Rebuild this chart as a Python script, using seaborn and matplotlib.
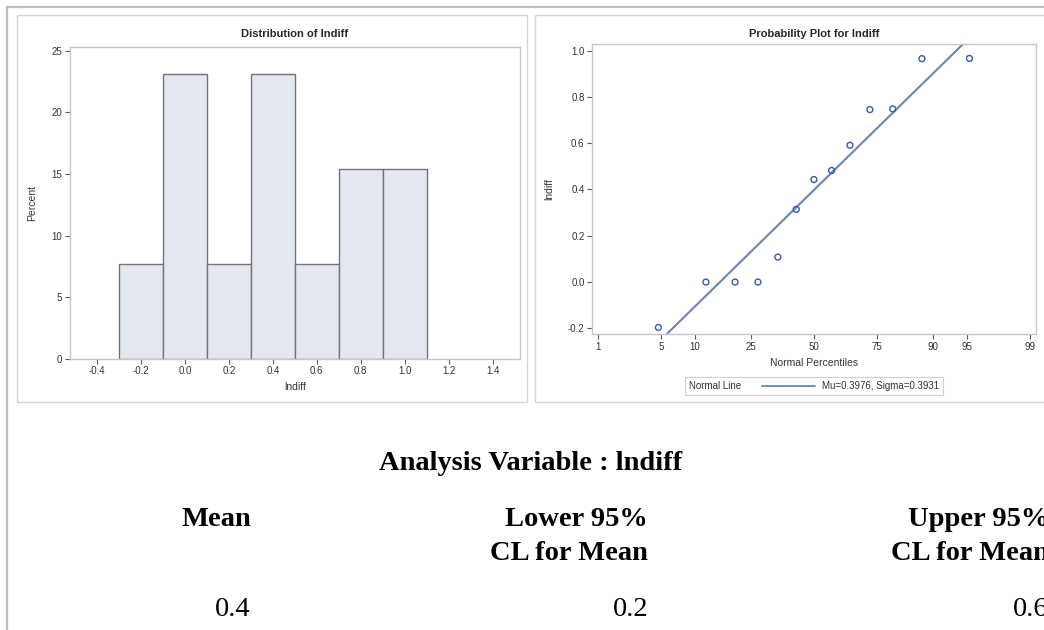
import numpy as np
import pandas as pd
import seaborn as sns
import matplotlib
matplotlib.use("Agg")
import matplotlib.pyplot as plt
from matplotlib.lines import Line2D
from matplotlib.patches import Rectangle
from matplotlib.offsetbox import AnchoredOffsetbox, HPacker, TextArea, DrawingArea
from statistics import NormalDist

# ---------------- data ----------------
lndiff = [-0.196, 0.0, 0.0, 0.0, 0.108, 0.314, 0.443, 0.482, 0.591, 0.745, 0.748, 0.965, 0.966]
bin_edges = [-0.3, -0.1, 0.1, 0.3, 0.5, 0.7, 0.9, 1.1]
hist_xticks = [-0.4, -0.2, 0.0, 0.2, 0.4, 0.6, 0.8, 1.0, 1.2, 1.4]
hist_yticks = [0, 5, 10, 15, 20, 25]
pct_ticks = [1, 5, 10, 25, 50, 75, 90, 95, 99]
prob_yticks = [-0.2, 0.0, 0.2, 0.4, 0.6, 0.8, 1.0]
mu = 0.3976
sigma = 0.3931
table_headers = ["Mean", "Lower 95%\nCL for Mean", "Upper 95%\nCL for Mean"]
table_values = ["0.4", "0.2", "0.6"]

# ---------------- style ----------------
sns.set_theme(style="white")
plt.rcParams['font.family'] = ['Liberation Sans', 'DejaVu Sans']

FRAME = "#C3C7CC"
TICKC = "#5A5A5A"
BAR_FILL = "#E3E7F0"
BAR_EDGE = "#70757D"
MARK = "#3A56B0"
LINEC = "#6C86B0"

fig = plt.figure(figsize=(10.44, 6.3), dpi=100)
W, H = 1044, 630

def fx(px):
    return px / W

def fy(py):
    return 1 - py / H

# page frame lines
fig.add_artist(Line2D([fx(7), fx(7)], [fy(7), fy(630)], color="#BDBDBD", lw=1.6))
fig.add_artist(Line2D([fx(7), fx(1044)], [fy(7), fy(7)], color="#BDBDBD", lw=1.6))
# panel boxes
fig.add_artist(Rectangle((fx(17), fy(402)), fx(527 - 17), (402 - 15) / H,
                         fill=False, ec="#D4D4D4", lw=1.0))
fig.add_artist(Rectangle((fx(535), fy(402)), fx(1060 - 535), (402 - 15) / H,
                         fill=False, ec="#D4D4D4", lw=1.0))

def style_axes(ax):
    for s in ax.spines.values():
        s.set_color(FRAME)
        s.set_linewidth(1.0)
    ax.tick_params(axis="both", which="both", length=3.5, width=0.8, color=TICKC,
                   labelsize=7, labelcolor="#333333", pad=2, direction="out",
                   bottom=True, left=True)

# ---------------- histogram ----------------
ax1 = fig.add_axes([fx(69.7), fy(358.8), fx(520 - 69.7), (358.8 - 46.5) / H])
df = pd.DataFrame({"lndiff": lndiff})
sns.histplot(data=df, x="lndiff", bins=bin_edges, stat="percent", ax=ax1,
             color=BAR_FILL, edgecolor=BAR_EDGE, linewidth=1.0, alpha=1.0)
ax1.set_xlim(-0.525, 1.525)
ax1.set_ylim(0, 25.33)
ax1.set_xticks(hist_xticks)
ax1.set_xticklabels([f"{v:.1f}" for v in hist_xticks])
ax1.set_yticks(hist_yticks)
ax1.set_xlabel("lndiff", fontsize=7.5, color="#333333", labelpad=4)
ax1.set_ylabel("Percent", fontsize=7.5, color="#333333", labelpad=10)
ax1.set_title("Distribution of lndiff", fontsize=8, fontweight="bold", pad=7)
style_axes(ax1)

# ---------------- probability plot ----------------
ax2 = fig.add_axes([fx(592.2), fy(334.4), fx(1036.3 - 592.2), (334.4 - 44.3) / H])
n = len(lndiff)
nd = NormalDist()
ys = sorted(lndiff)
zs = [nd.inv_cdf((i - 0.375) / (n + 0.25)) for i in range(1, n + 1)]
pdf = pd.DataFrame({"z": zs, "lndiff": ys})
zl = np.array([-2.4, 2.4])
ax2.plot(zl, mu + sigma * zl, color=LINEC, lw=1.5, zorder=2)
sns.scatterplot(data=pdf, x="z", y="lndiff", ax=ax2, marker="o", s=18,
                facecolor="none", edgecolor=MARK, linewidth=1.0, zorder=3)
ax2.set_xlim(-2.385, 2.392)
ax2.set_ylim(-0.226, 1.027)
ax2.set_xticks([nd.inv_cdf(p / 100) for p in pct_ticks])
ax2.set_xticklabels([str(p) for p in pct_ticks])
ax2.set_yticks(prob_yticks)
ax2.set_yticklabels([f"{v:.1f}" for v in prob_yticks])
ax2.set_xlabel("Normal Percentiles", fontsize=7.5, color="#333333", labelpad=4)
ax2.set_ylabel("lndiff", fontsize=7.5, color="#333333", labelpad=10)
ax2.set_title("Probability Plot for lndiff", fontsize=8, fontweight="bold", pad=5)
style_axes(ax2)

# legend
da = DrawingArea(54, 6, 0, 0)
da.add_artist(Line2D([13, 51], [3, 3], color=LINEC, lw=1.3))
box = HPacker(children=[TextArea("Normal Line", textprops=dict(fontsize=7, color="#333333")),
                        da,
                        TextArea(f"Mu={mu:.4f}, Sigma={sigma:.4f}",
                                 textprops=dict(fontsize=7, color="#333333"))],
              align="center", pad=0, sep=2)
anch = AnchoredOffsetbox(loc="upper center", child=box, pad=0.25, borderpad=0,
                         frameon=True, bbox_to_anchor=(fx(814), fy(377)),
                         bbox_transform=fig.transFigure)
anch.patch.set_edgecolor("#D0D0D0")
anch.patch.set_linewidth(0.8)
fig.add_artist(anch)

# ---------------- summary table ----------------
serif = ['Liberation Serif', 'DejaVu Serif']
FS = 20.5
fig.text(fx(531), fy(463), "Analysis Variable : lndiff", family=serif, fontweight="bold",
         fontsize=FS, ha="center", va="center", color="black")
col_right = [251, 648, 1049]
for xr, hdr, val in zip(col_right, table_headers, table_values):
    lines = hdr.split("\n")
    for k, ln in enumerate(lines):
        fig.text(fx(xr), fy(519 + 34 * k), ln, family=serif, fontweight="bold",
                 fontsize=FS, ha="right", va="center", color="black")
    fig.text(fx(xr), fy(610), val, family=serif, fontsize=FS, ha="right",
             va="center", color="black")

fig.savefig("out.png", dpi=100)
